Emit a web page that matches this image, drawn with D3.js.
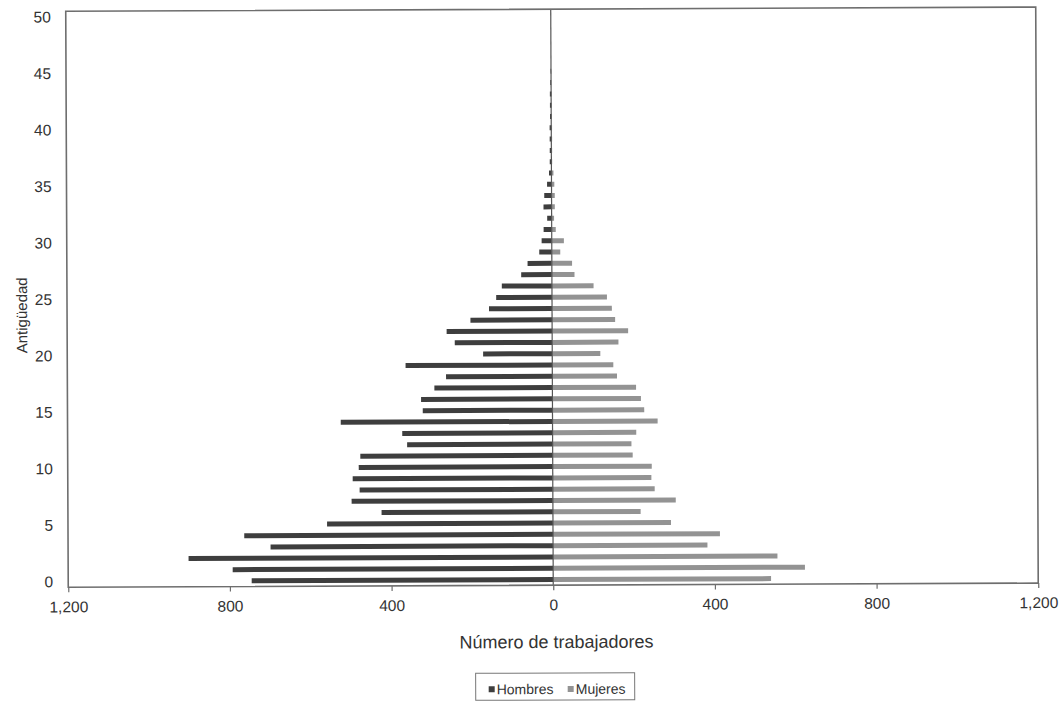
<!DOCTYPE html>
<html>
<head>
<meta charset="utf-8">
<script src="https://cdn.jsdelivr.net/npm/d3@7"></script>
<style>
  html, body { margin: 0; padding: 0; background: #fff; }
  svg { display: block; font-family: "Liberation Sans", Arial, sans-serif; }
</style>
</head>
<body>
<svg id="chart" width="1063" height="703"></svg>
<script>
// Antigüedad (years of seniority), 0..50
const ages = d3.range(0, 51);
// Hombres (number of workers, drawn to the left)
const hombres = [746, 793, 902, 699, 764, 559, 424, 498, 478, 495,
                 480, 476, 360, 372, 524, 321, 325, 292, 263, 363,
                 171, 241, 261, 202, 156, 138, 124, 76, 60, 31,
                 25, 20, 11, 20, 18, 11, 6, 4, 4, 4,
                 4, 3, 3, 3, 2, 1, 0, 0, 0, 0, 0];
// Mujeres (number of workers, drawn to the right)
const mujeres = [539, 623, 555, 382, 413, 292, 217, 304, 252, 244,
                 245, 198, 195, 207, 260, 227, 219, 207, 160, 151,
                 119, 164, 188, 156, 148, 136, 103, 56, 50, 21,
                 30, 10, 6, 8, 8, 7, 5, 2, 2, 2,
                 2, 2, 2, 2, 1, 1, 0, 0, 0, 0, 0];
const xTicks = [-1200, -800, -400, 0, 400, 800, 1200];
const yTicks = [0, 5, 10, 15, 20, 25, 30, 35, 40, 45, 50];
const seriesNames = ["Hombres", "Mujeres"];
const seriesColors = ["#3e3e3e", "#939393"];

const svg = d3.select("#chart");
const root = svg.append("g").attr("transform", "rotate(-0.25 552 300)");

const L = 67, R = 1037, T = 9.2, B = 585.2;
const x = d3.scaleLinear().domain([-1200, 1200]).range([L, R]);
const y = d3.scaleLinear().domain([-0.5, 50.5]).range([B, T]);
const barH = 5;
const fmt = d3.format(",");

// bars
root.append("g").selectAll("rect.h").data(ages).join("rect")
  .attr("x", d => x(-hombres[d]))
  .attr("y", d => y(d) - barH / 2)
  .attr("width", d => x(0) - x(-hombres[d]))
  .attr("height", barH)
  .attr("fill", seriesColors[0]);
root.append("g").selectAll("rect.m").data(ages).join("rect")
  .attr("x", x(0))
  .attr("y", d => y(d) - barH / 2)
  .attr("width", d => x(mujeres[d]) - x(0))
  .attr("height", barH)
  .attr("fill", seriesColors[1]);

// zero line
root.append("line")
  .attr("x1", x(0)).attr("x2", x(0)).attr("y1", T).attr("y2", B)
  .attr("stroke", "#555").attr("stroke-width", 1.2);

// plot border
root.append("rect")
  .attr("x", L).attr("y", T).attr("width", R - L).attr("height", B - T)
  .attr("fill", "none").attr("stroke", "#6e6e6e").attr("stroke-width", 1.6);

// x axis
const xAxis = d3.axisBottom(x).tickValues(xTicks).tickSize(5).tickPadding(9)
  .tickFormat(d => fmt(Math.abs(d)));
const gx = root.append("g").attr("transform", `translate(0,${B})`).call(xAxis);
gx.select(".domain").remove();
gx.selectAll(".tick line").attr("stroke", "#6e6e6e").attr("stroke-width", 1.2);
gx.selectAll(".tick text").attr("fill", "#333").attr("font-size", 15.5)
  .attr("font-family", "Liberation Sans, Arial, sans-serif");

// y axis
const yAxis = d3.axisLeft(y).tickValues(yTicks).tickSize(0).tickPadding(15);
const gy = root.append("g").attr("transform", `translate(${L},0)`).call(yAxis);
gy.select(".domain").remove();
gy.selectAll(".tick text").attr("fill", "#333").attr("font-size", 15.5)
  .attr("font-family", "Liberation Sans, Arial, sans-serif");

// axis titles
root.append("text")
  .attr("x", 555).attr("y", 648)
  .attr("text-anchor", "middle").attr("font-size", 18).attr("fill", "#333")
  .text("Número de trabajadores");
root.append("text")
  .attr("transform", "translate(27,313) rotate(-90)")
  .attr("text-anchor", "middle").attr("font-size", 15).attr("fill", "#333")
  .text("Antigüedad");

// legend
const leg = root.append("g");
leg.append("rect").attr("x", 474).attr("y", 673).attr("width", 159).attr("height", 27)
  .attr("fill", "none").attr("stroke", "#777").attr("stroke-width", 1);
const legX = [487, 566];
seriesNames.forEach((n, i) => {
  leg.append("rect").attr("x", legX[i]).attr("y", 686).attr("width", 6).attr("height", 6)
    .attr("fill", seriesColors[i]);
  leg.append("text").attr("x", legX[i] + 8).attr("y", 694)
    .attr("font-size", 14).attr("fill", "#333").text(n);
});
</script>
</body>
</html>
